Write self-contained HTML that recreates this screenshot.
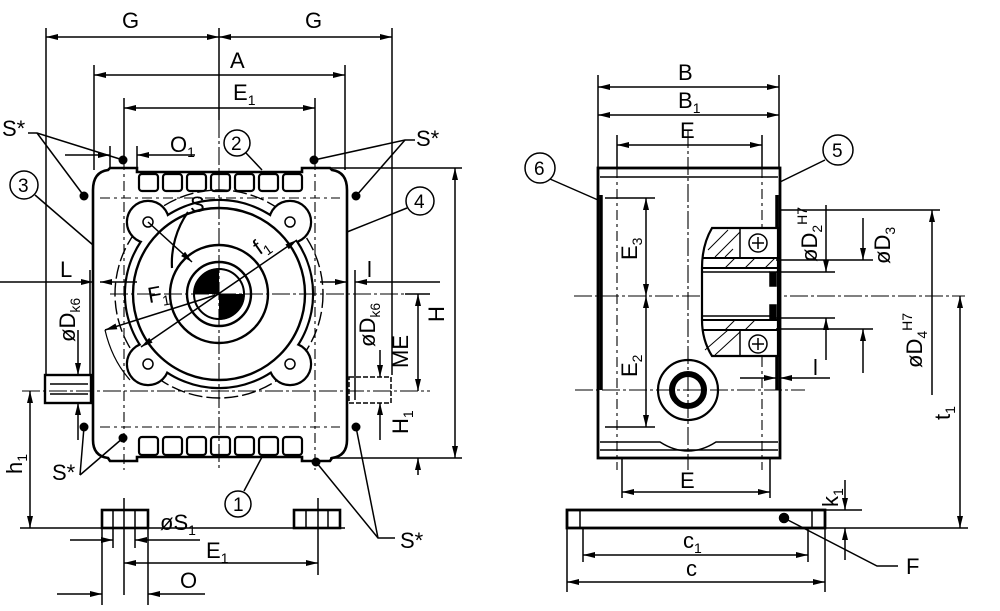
<!DOCTYPE html>
<html><head><meta charset="utf-8"><style>
html,body{margin:0;padding:0;background:#fff;}
svg{display:block;}
text{font-family:"Liberation Sans",sans-serif;fill:#000;}
</style></head><body>
<svg width="1000" height="611" viewBox="0 0 1000 611" xmlns="http://www.w3.org/2000/svg">
<defs>
<marker id="a" viewBox="0 0 12 6" refX="12" refY="3" markerWidth="13" markerHeight="6" orient="auto-start-reverse" markerUnits="userSpaceOnUse"><path d="M0,0L12,3L0,6z" fill="#000"/></marker>
</defs>
<g stroke="#000" fill="none" stroke-width="1.5">
<!-- ===== LEFT VIEW ===== -->
<line x1="46" y1="28" x2="46" y2="375"/>
<line x1="392" y1="28" x2="392" y2="375"/>
<line x1="219" y1="28" x2="219" y2="120"/>
<line x1="94" y1="65" x2="94" y2="170"/>
<line x1="345" y1="65" x2="345" y2="170"/>
<line x1="124" y1="98" x2="124" y2="160"/>
<line x1="315" y1="98" x2="315" y2="160"/>
<line x1="46" y1="37" x2="219" y2="37" marker-start="url(#a)" marker-end="url(#a)"/>
<line x1="219" y1="37" x2="392" y2="37" marker-start="url(#a)" marker-end="url(#a)"/>
<line x1="94" y1="75" x2="345" y2="75" marker-start="url(#a)" marker-end="url(#a)"/>
<line x1="124" y1="108" x2="315" y2="108" marker-start="url(#a)" marker-end="url(#a)"/>
<line x1="65" y1="155" x2="110" y2="155" marker-end="url(#a)"/>
<line x1="160" y1="155" x2="137" y2="155" marker-end="url(#a)"/>
<line x1="160" y1="155" x2="195" y2="155"/>
<line x1="110" y1="146" x2="110" y2="168"/><line x1="137" y1="146" x2="137" y2="168"/>
<!-- body -->
<path d="M93,190 Q93,172 108,170 L110,168 L137,168 L137,172 L302,172 L302,168 L330,168 L332,170 Q347,172 347,190 L347,440 Q347,456 332,458 L330,461 L302,461 L302,457 L137,457 L137,461 L110,461 L108,458 Q93,456 93,440 Z" stroke-width="2.6"/>
<g stroke-width="2.2">
<rect x="139" y="174" width="19" height="17" rx="3"/><rect x="163" y="174" width="19" height="17" rx="3"/><rect x="187" y="174" width="19" height="17" rx="3"/><rect x="211" y="174" width="19" height="17" rx="3"/><rect x="235" y="174" width="19" height="17" rx="3"/><rect x="259" y="174" width="19" height="17" rx="3"/><rect x="283" y="174" width="19" height="17" rx="3"/>
<rect x="139" y="437" width="19" height="18" rx="3"/><rect x="163" y="437" width="19" height="18" rx="3"/><rect x="187" y="437" width="19" height="18" rx="3"/><rect x="211" y="437" width="19" height="18" rx="3"/><rect x="235" y="437" width="19" height="18" rx="3"/><rect x="259" y="437" width="19" height="18" rx="3"/><rect x="283" y="437" width="19" height="18" rx="3"/>
</g>
<!-- flange (union of circle + lobes) -->
<circle cx="219" cy="294" r="104" stroke-dasharray="14,4" stroke-width="1.4"/>
<g stroke-width="4.4" fill="#fff">
<circle cx="148" cy="222" r="20"/><circle cx="290" cy="222" r="20"/><circle cx="148" cy="364" r="20"/><circle cx="290" cy="364" r="20"/>
<circle cx="219" cy="294" r="93"/>
</g>
<g fill="#fff" stroke="none">
<circle cx="148" cy="222" r="20"/><circle cx="290" cy="222" r="20"/><circle cx="148" cy="364" r="20"/><circle cx="290" cy="364" r="20"/>
<circle cx="219" cy="294" r="93"/>
</g>
<circle cx="219" cy="294" r="86" stroke-width="2.4"/>
<circle cx="219" cy="294" r="49" stroke-width="2.4"/>
<circle cx="219" cy="294" r="32" stroke-width="2.4"/>
<circle cx="219" cy="294" r="25" fill="#000"/>
<path d="M219,269 A25,25 0 0 1 244,294 L219,294 Z M219,319 A25,25 0 0 1 194,294 L219,294 Z" fill="#fff" stroke="none"/>
<circle cx="219" cy="294" r="25" stroke-width="2"/>
<g stroke-width="1.5"><circle cx="148" cy="222" r="5"/><circle cx="290" cy="222" r="5"/><circle cx="148" cy="364" r="5"/><circle cx="290" cy="364" r="5"/></g>
<!-- centerlines -->
<g stroke-width="1.1">
<line x1="219" y1="120" x2="219" y2="470" stroke-dasharray="18,3,3,3"/>
<line x1="110" y1="294" x2="430" y2="294" stroke-dasharray="18,3,3,3"/>
<line x1="22" y1="391" x2="430" y2="391" stroke-dasharray="18,3,3,3"/>
<line x1="100" y1="198" x2="340" y2="198" stroke-dasharray="10,4,3,4"/>
<line x1="100" y1="427" x2="340" y2="427" stroke-dasharray="10,4,3,4"/>
<line x1="124" y1="160" x2="124" y2="470" stroke-dasharray="10,4,3,4"/>
<line x1="315" y1="160" x2="315" y2="470" stroke-dasharray="10,4,3,4"/>
</g>
<path d="M188,212 A88,88 0 0 0 172,268" stroke-width="2.2"/>
<line x1="148" y1="222" x2="192" y2="262" marker-end="url(#a)"/>
<line x1="297" y1="240" x2="141" y2="347" marker-start="url(#a)" marker-end="url(#a)"/>
<line x1="105" y1="330" x2="219" y2="294" marker-start="url(#a)"/>
<path d="M105,330 Q112,360 130,380" stroke-width="1.2"/>
<!-- shafts -->
<rect x="45" y="375" width="46" height="28" stroke-width="2.4"/>
<line x1="50" y1="384" x2="88" y2="384"/><line x1="50" y1="394" x2="88" y2="394"/>
<rect x="349" y="377" width="42" height="26" stroke-dasharray="5,2"/>
<!-- L dims -->
<line x1="0" y1="282" x2="93" y2="282" marker-end="url(#a)"/>
<line x1="137" y1="282" x2="100" y2="282" marker-end="url(#a)"/>
<line x1="320" y1="282" x2="347" y2="282" marker-end="url(#a)"/>
<line x1="440" y1="282" x2="355" y2="282" marker-end="url(#a)"/>
<line x1="355" y1="270" x2="355" y2="400"/>
<line x1="90" y1="270" x2="90" y2="375"/>
<line x1="78" y1="330" x2="78" y2="375" marker-end="url(#a)"/><line x1="78" y1="440" x2="78" y2="403" marker-end="url(#a)"/>
<line x1="380" y1="350" x2="380" y2="377" marker-end="url(#a)"/><line x1="380" y1="440" x2="380" y2="403" marker-end="url(#a)"/>
<!-- H, ME, H1, h1 -->
<line x1="330" y1="168" x2="462" y2="168"/><line x1="330" y1="458" x2="462" y2="458"/>
<line x1="455" y1="168" x2="455" y2="458" marker-start="url(#a)" marker-end="url(#a)"/>
<line x1="418" y1="294" x2="418" y2="391" marker-start="url(#a)" marker-end="url(#a)"/>
<line x1="405" y1="294" x2="430" y2="294"/>
<line x1="20" y1="528" x2="345" y2="528"/>
<line x1="30" y1="391" x2="30" y2="528" marker-start="url(#a)" marker-end="url(#a)"/>
<line x1="418" y1="475" x2="418" y2="458" marker-end="url(#a)"/>
<!-- S* -->
<g fill="#000" stroke="none"><circle cx="123" cy="160" r="4.5"/><circle cx="314" cy="160" r="4.5"/><circle cx="84" cy="196" r="4.5"/><circle cx="356" cy="196" r="4.5"/><circle cx="84" cy="427" r="4.5"/><circle cx="123" cy="438" r="4.5"/><circle cx="356" cy="427" r="4.5"/><circle cx="316" cy="462" r="4.5"/></g>
<polyline points="123,160 37,133 28,133"/><line x1="37" y1="133" x2="84" y2="196"/>
<polyline points="314,160 405,140 415,140"/><line x1="405" y1="140" x2="356" y2="196"/>
<line x1="80" y1="475" x2="84" y2="427"/><line x1="80" y1="475" x2="123" y2="438"/>
<polyline points="316,462 378,538 395,538"/><line x1="378" y1="538" x2="356" y2="427"/>
<!-- callouts -->
<circle cx="237" cy="143" r="13"/><line x1="246" y1="153" x2="262" y2="170"/>
<circle cx="24" cy="185" r="14"/><line x1="35" y1="195" x2="93" y2="245"/>
<circle cx="420" cy="201" r="14"/><line x1="407" y1="208" x2="347" y2="232"/>
<circle cx="238" cy="504" r="13"/><line x1="244" y1="491" x2="262" y2="457"/>
<!-- feet -->
<rect x="102" y="510" width="46" height="18" stroke-width="2.6"/>
<rect x="294" y="510" width="46" height="18" stroke-width="2.6"/>
<line x1="113" y1="510" x2="113" y2="528"/><line x1="135" y1="510" x2="135" y2="528"/>
<line x1="306" y1="510" x2="306" y2="528"/><line x1="328" y1="510" x2="328" y2="528"/>
<line x1="102" y1="528" x2="102" y2="605"/><line x1="148" y1="528" x2="148" y2="605"/>
<line x1="124" y1="498" x2="124" y2="595"/><line x1="318" y1="498" x2="318" y2="575"/>
<line x1="113" y1="528" x2="113" y2="548"/><line x1="135" y1="528" x2="135" y2="548"/>
<line x1="70" y1="540" x2="113" y2="540" marker-end="url(#a)"/><line x1="200" y1="540" x2="135" y2="540" marker-end="url(#a)"/>
<line x1="124" y1="563" x2="318" y2="563" marker-start="url(#a)" marker-end="url(#a)"/>
<line x1="57" y1="594" x2="102" y2="594" marker-end="url(#a)"/><line x1="205" y1="594" x2="148" y2="594" marker-end="url(#a)"/>

<!-- ===== RIGHT VIEW ===== -->
<line x1="598" y1="75" x2="598" y2="168"/><line x1="779" y1="75" x2="779" y2="168"/>
<line x1="617" y1="135" x2="617" y2="168"/><line x1="762" y1="135" x2="762" y2="168"/>
<line x1="598" y1="87" x2="779" y2="87" marker-start="url(#a)" marker-end="url(#a)"/>
<line x1="598" y1="115" x2="779" y2="115" marker-start="url(#a)" marker-end="url(#a)"/>
<line x1="617" y1="145" x2="762" y2="145" marker-start="url(#a)" marker-end="url(#a)"/>
<rect x="598" y="168" width="182" height="290" stroke-width="2.8"/>
<line x1="600" y1="177" x2="778" y2="177"/><line x1="600" y1="450" x2="778" y2="450"/>
<line x1="601" y1="195" x2="601" y2="390" stroke-width="3.5"/>
<line x1="777" y1="195" x2="777" y2="390" stroke-width="3.5"/>
<path d="M600,442 L660,442 Q688,460 716,442 L778,442"/>
<g stroke-width="1.1">
<line x1="688" y1="130" x2="688" y2="470" stroke-dasharray="18,3,3,3"/>
<line x1="574" y1="296" x2="965" y2="296" stroke-dasharray="18,3,3,3"/>
<line x1="575" y1="390" x2="805" y2="390" stroke-dasharray="18,3,3,3"/>
<line x1="617" y1="168" x2="617" y2="470" stroke-dasharray="10,4,3,4"/>
<line x1="762" y1="168" x2="762" y2="470" stroke-dasharray="10,4,3,4"/>
</g>
<line x1="605" y1="198" x2="655" y2="198"/><line x1="605" y1="427" x2="655" y2="427"/>
<line x1="646" y1="198" x2="646" y2="296" marker-start="url(#a)" marker-end="url(#a)"/>
<line x1="646" y1="296" x2="646" y2="427" marker-start="url(#a)" marker-end="url(#a)"/>
<!-- section -->
<path d="M712,228 L778,228 L778,356 L712,356 Q702,340 702,320 L702,268 Q702,245 712,228 Z" stroke-width="2.2" fill="#fff"/>
<path d="M702,258 L778,258 M702,268 L778,268 M702,320 L778,320 M702,330 L778,330" stroke-width="2"/>
<line x1="702" y1="272" x2="770" y2="272"/><line x1="702" y1="316" x2="770" y2="316"/>
<g stroke-width="1"><line x1="708" y1="250" x2="728" y2="230"/><line x1="715" y1="257" x2="740" y2="232"/><line x1="725" y1="257" x2="733" y2="249"/><line x1="705" y1="350" x2="728" y2="330"/><line x1="715" y1="355" x2="740" y2="332"/><line x1="725" y1="268" x2="735" y2="258"/><line x1="745" y1="268" x2="755" y2="258"/><line x1="765" y1="268" x2="775" y2="258"/><line x1="725" y1="330" x2="735" y2="320"/><line x1="745" y1="330" x2="755" y2="320"/></g>
<line x1="740" y1="228" x2="740" y2="258"/><line x1="740" y1="330" x2="740" y2="356"/>
<circle cx="758" cy="243" r="9"/><circle cx="758" cy="344" r="9"/>
<line x1="752" y1="243" x2="764" y2="243"/><line x1="758" y1="237" x2="758" y2="249"/>
<line x1="752" y1="344" x2="764" y2="344"/><line x1="758" y1="338" x2="758" y2="350"/>
<rect x="770" y="272" width="6" height="14" fill="#000"/><rect x="770" y="305" width="6" height="14" fill="#000"/>
<circle cx="688" cy="390" r="30" stroke-width="2.2"/>
<circle cx="688" cy="390" r="16" stroke-width="6"/>
<!-- right dims -->
<line x1="780" y1="210" x2="940" y2="210"/>
<line x1="776" y1="272" x2="835" y2="272"/><line x1="776" y1="318" x2="835" y2="318"/>
<line x1="776" y1="260" x2="873" y2="260"/><line x1="776" y1="329" x2="873" y2="329"/>
<line x1="826" y1="205" x2="826" y2="272" marker-end="url(#a)"/><line x1="826" y1="360" x2="826" y2="318" marker-end="url(#a)"/>
<line x1="863" y1="218" x2="863" y2="260" marker-end="url(#a)"/><line x1="863" y1="373" x2="863" y2="329" marker-end="url(#a)"/>
<line x1="932" y1="395" x2="932" y2="210" marker-end="url(#a)"/>
<line x1="740" y1="378" x2="776" y2="378" marker-end="url(#a)"/><line x1="830" y1="378" x2="780" y2="378" marker-end="url(#a)"/>
<line x1="960" y1="528" x2="960" y2="296" marker-start="url(#a)" marker-end="url(#a)"/>
<line x1="817" y1="528" x2="968" y2="528"/>
<line x1="820" y1="510" x2="862" y2="510"/>
<line x1="845" y1="480" x2="845" y2="510" marker-end="url(#a)"/><line x1="845" y1="560" x2="845" y2="528" marker-end="url(#a)"/>
<!-- plate -->
<rect x="567" y="510" width="258" height="18" stroke-width="2.8"/>
<line x1="580" y1="510" x2="580" y2="528"/><line x1="812" y1="510" x2="812" y2="528"/>
<line x1="622" y1="458" x2="622" y2="498"/><line x1="770" y1="458" x2="770" y2="498"/>
<line x1="622" y1="492" x2="770" y2="492" marker-start="url(#a)" marker-end="url(#a)"/>
<line x1="583" y1="528" x2="583" y2="562"/><line x1="808" y1="528" x2="808" y2="562"/>
<line x1="567" y1="528" x2="567" y2="592"/><line x1="825" y1="528" x2="825" y2="592"/>
<line x1="583" y1="555" x2="808" y2="555" marker-start="url(#a)" marker-end="url(#a)"/>
<line x1="567" y1="582" x2="825" y2="582" marker-start="url(#a)" marker-end="url(#a)"/>
<circle cx="784" cy="518" r="4.5" fill="#000"/>
<polyline points="784,518 877,566 898,566"/>
<circle cx="540" cy="168" r="15"/><line x1="550" y1="179" x2="598" y2="200"/>
<circle cx="838" cy="150" r="15"/><line x1="825" y1="160" x2="780" y2="182"/>
</g>
<!-- TEXT -->
<g font-size="22">
<text x="122" y="28">G</text><text x="305" y="28">G</text>
<text x="230" y="68">A</text>
<text x="233" y="100">E<tspan font-size="14" dy="5">1</tspan></text>
<text x="170" y="152">O<tspan font-size="14" dy="5">1</tspan></text>
<text x="2" y="136">S*</text><text x="416" y="146">S*</text>
<text x="52" y="480">S*</text><text x="400" y="548">S*</text>
<text x="231" y="150" font-size="19">2</text>
<text x="18" y="192" font-size="19">3</text>
<text x="414" y="208" font-size="19">4</text>
<text x="233" y="511" font-size="19">1</text>
<text x="60" y="277">L</text>
<text x="367" y="277">l</text>
<text x="190" y="212">S</text>
<text x="148" y="302" transform="rotate(-10 155 296)">F<tspan font-size="14" dy="5">1</tspan></text>
<text x="254" y="252" transform="rotate(-35 262 245)">f<tspan font-size="14" dy="5">1</tspan></text>
<text x="160" y="530">øS<tspan font-size="14" dy="5">1</tspan></text>
<text x="206" y="558">E<tspan font-size="14" dy="5">1</tspan></text>
<text x="180" y="588">O</text>
<text transform="translate(75,342) rotate(-90)">øD<tspan font-size="14" dy="5">k6</tspan></text>
<text transform="translate(375,347) rotate(-90)">øD<tspan font-size="14" dy="5">k6</tspan></text>
<text transform="translate(444,322) rotate(-90)">H</text>
<text transform="translate(408,368) rotate(-90)">ME</text>
<text transform="translate(408,434) rotate(-90)">H<tspan font-size="14" dy="5">1</tspan></text>
<text transform="translate(22,474) rotate(-90)">h<tspan font-size="14" dy="5">1</tspan></text>
<text x="678" y="80">B</text>
<text x="678" y="108">B<tspan font-size="14" dy="5">1</tspan></text>
<text x="680" y="138">E</text>
<text x="534" y="175" font-size="19">6</text>
<text x="832" y="157" font-size="19">5</text>
<text transform="translate(637,260) rotate(-90)">E<tspan font-size="14" dy="5">3</tspan></text>
<text transform="translate(637,377) rotate(-90)">E<tspan font-size="14" dy="5">2</tspan></text>
<text transform="translate(817,262) rotate(-90)">øD<tspan font-size="14" dy="5">2</tspan><tspan font-size="14" dy="-15">H7</tspan></text>
<text transform="translate(890,264) rotate(-90)">øD<tspan font-size="14" dy="5">3</tspan></text>
<text transform="translate(922,368) rotate(-90)">øD<tspan font-size="14" dy="5">4</tspan><tspan font-size="14" dy="-15">H7</tspan></text>
<text x="813" y="375">l</text>
<text transform="translate(950,420) rotate(-90)">t<tspan font-size="14" dy="5">1</tspan></text>
<text transform="translate(838,507) rotate(-90)">k<tspan font-size="14" dy="5">1</tspan></text>
<text x="680" y="488">E</text>
<text x="683" y="548">c<tspan font-size="14" dy="5">1</tspan></text>
<text x="686" y="576">c</text>
<text x="906" y="574">F</text>
</g>
</svg>
</body></html>
